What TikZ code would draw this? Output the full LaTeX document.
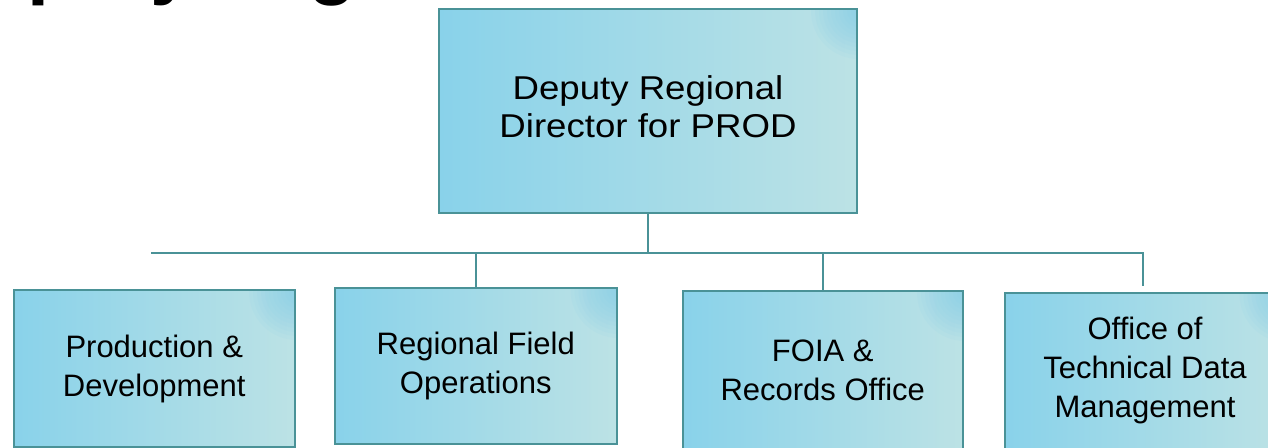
\documentclass[tikz,border=0pt]{standalone}
\usepackage{fontspec}
\setmainfont{Liberation Sans}
\usepackage{graphicx}
\definecolor{teal}{HTML}{4A9297}
\definecolor{lc}{HTML}{89D2EA}
\definecolor{mc}{HTML}{B6DFE6}
\definecolor{rc}{HTML}{BCE2E5}
\definecolor{cc}{HTML}{7ECDEA}
\tikzset{
  orgbox/.style={draw=teal, line width=2pt, anchor=north west, inner sep=0pt,
    left color=lc, middle color=mc, right color=rc, align=center,
    path picture={\foreach \r in {48,44,...,4}
      {\fill[cc, opacity=0.08]
      ([xshift=2pt,yshift=-2pt]path picture bounding box.north east) circle (\r pt);}}},
  childtext/.style={font=\fontsize{31}{39}\selectfont},
  link/.style={draw=teal, line width=2pt}
}
\begin{document}
\begin{tikzpicture}[x=1pt,y=-1pt]
\useasboundingbox (0,0) rectangle (1268,447);
\clip (0,0) rectangle (1268,447);
\fill[white] (0,0) rectangle (1268,447);
% cropped title
\node[anchor=base west, inner sep=0pt, font=\fontsize{79}{80}\selectfont\bfseries] (title) at (-74,-10.5) {Deputy Org};
% top box
\node[orgbox, minimum width=418pt, minimum height=204pt,
  font=\fontsize{33}{37.5}\selectfont] (top) at (438,8)
  {\scalebox{1.11}[1]{\begin{tabular}{@{}c@{}}Deputy Regional\\Director for PROD\end{tabular}}};
% children
\node[orgbox, childtext, minimum width=281.5pt, minimum height=157pt] (b1) at (12.5,289) {Production \&\\Development};
\node[orgbox, childtext, minimum width=281.5pt, minimum height=156pt] (b2) at (334,287) {Regional Field\\Operations};
\node[orgbox, childtext, minimum width=280.5pt, minimum height=158pt] (b3) at (681.5,290) {FOIA \&\\Records Office};
\node[orgbox, childtext, minimum width=281pt, minimum height=156pt] (b4) at (1003.5,291.5) {Office of\\Technical Data\\Management};
% connectors
\coordinate (busL) at (151,252.7);
\coordinate (busR) at (1143.3,252.7);
\coordinate (b4end) at (1143.3,286);
\draw[link] (top.south) -- (top.south |- busL);
\draw[link] (busL) -- (busR) -- (b4end);
\draw[link] (b2.north) -- (b2.north |- busL);
\draw[link] (b3.north) -- (b3.north |- busL);
\end{tikzpicture}
\end{document}
